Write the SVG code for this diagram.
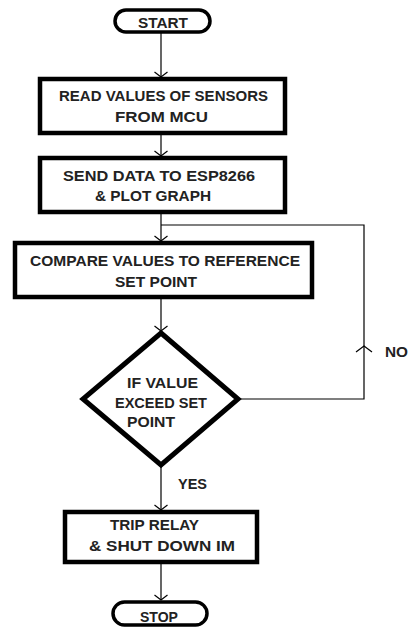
<svg xmlns="http://www.w3.org/2000/svg" width="409" height="630" viewBox="0 0 409 630">
<defs>
<style>
.box{fill:#fff;stroke:#000;stroke-width:4.5}
.term{fill:#fff;stroke:#000;stroke-width:3.5}
.dia{fill:#fff;stroke:#000;stroke-width:5;stroke-linejoin:miter}
.ln{fill:none;stroke:#000;stroke-width:1.2}
.t{font-family:"Liberation Sans",Arial,sans-serif;font-weight:bold;font-size:15px;fill:#222}
</style>
<marker id="ah" markerWidth="14" markerHeight="16" refX="6" refY="8" orient="auto" markerUnits="userSpaceOnUse">
<path d="M1,1.5 L6,8 L1,14.5" fill="none" stroke="#000" stroke-width="1.2"/>
</marker>
</defs>
<rect width="409" height="630" fill="#fff"/>
<g id="connectors">
<line class="ln" x1="161" y1="32" x2="161" y2="77" marker-end="url(#ah)"/>
<line class="ln" x1="161" y1="133" x2="161" y2="156" marker-end="url(#ah)"/>
<line class="ln" x1="161" y1="212" x2="161" y2="241" marker-end="url(#ah)"/>
<line class="ln" x1="161" y1="297" x2="161" y2="331" marker-end="url(#ah)"/>
<polyline class="ln" points="238,399 364,399 364,225 161,225"/>
<polyline class="ln" points="356,352 364,346 372,352"/>
<line class="ln" x1="161" y1="465" x2="161" y2="510" marker-end="url(#ah)"/>
<line class="ln" x1="161" y1="562" x2="161" y2="600" marker-end="url(#ah)"/>
<text class="t" x="385" y="357" textLength="23" lengthAdjust="spacingAndGlyphs">NO</text>
<text class="t" x="178" y="489" textLength="29" lengthAdjust="spacingAndGlyphs">YES</text>
</g>
<g id="start">
<rect class="term" x="115" y="10" width="95" height="22" rx="11" ry="11"/>
<text class="t" x="138" y="28" textLength="50" lengthAdjust="spacingAndGlyphs">START</text>
</g>
<g id="read">
<rect class="box" x="40" y="79" width="245" height="54"/>
<text class="t" x="59" y="101" textLength="209" lengthAdjust="spacingAndGlyphs">READ VALUES OF SENSORS</text>
<text class="t" x="115" y="122" textLength="93" lengthAdjust="spacingAndGlyphs">FROM MCU</text>
</g>
<g id="send">
<rect class="box" x="40" y="158" width="245" height="54"/>
<text class="t" x="63" y="181" textLength="192" lengthAdjust="spacingAndGlyphs">SEND DATA TO ESP8266</text>
<text class="t" x="95" y="201" textLength="116" lengthAdjust="spacingAndGlyphs">&amp; PLOT GRAPH</text>
</g>
<g id="compare">
<rect class="box" x="15" y="243" width="297" height="54"/>
<text class="t" x="30" y="266" textLength="270" lengthAdjust="spacingAndGlyphs">COMPARE VALUES TO REFERENCE</text>
<text class="t" x="115" y="287" textLength="82" lengthAdjust="spacingAndGlyphs">SET POINT</text>
</g>
<g id="decision">
<polygon class="dia" points="161,333 238,399 161,465 83,399"/>
<text class="t" x="127" y="388" textLength="71" lengthAdjust="spacingAndGlyphs">IF VALUE</text>
<text class="t" x="115" y="408" textLength="92" lengthAdjust="spacingAndGlyphs">EXCEED SET</text>
<text class="t" x="127" y="427" textLength="48" lengthAdjust="spacingAndGlyphs">POINT</text>
</g>
<g id="trip">
<rect class="box" x="65" y="512" width="192" height="50"/>
<text class="t" x="110" y="530" textLength="89" lengthAdjust="spacingAndGlyphs">TRIP RELAY</text>
<text class="t" x="89" y="551" textLength="146" lengthAdjust="spacingAndGlyphs">&amp; SHUT DOWN IM</text>
</g>
<g id="stop">
<rect class="term" x="113" y="602" width="94" height="23" rx="11.5" ry="11.5"/>
<text class="t" x="140" y="622" textLength="38" lengthAdjust="spacingAndGlyphs">STOP</text>
</g>
</svg>
